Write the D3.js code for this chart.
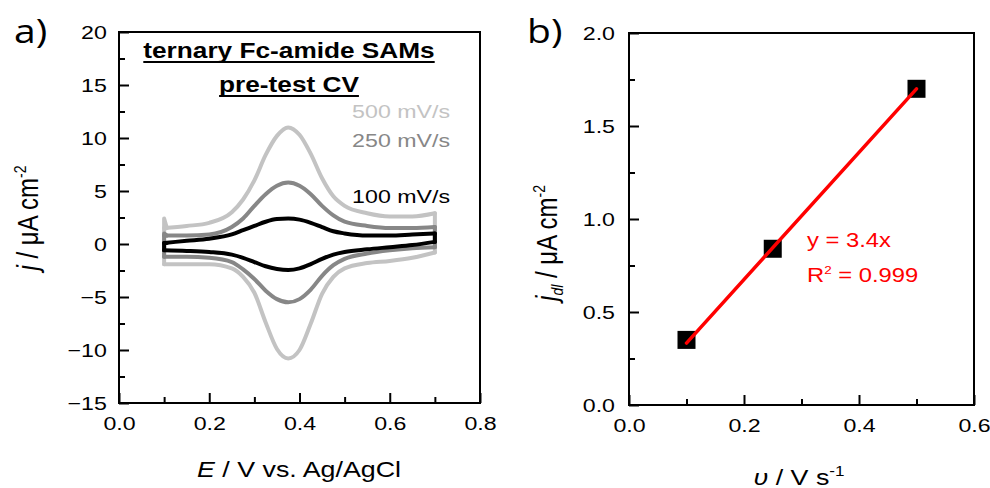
<!DOCTYPE html>
<html>
<head>
<meta charset="utf-8">
<script src="https://cdn.jsdelivr.net/npm/d3@7"></script>
<style>
  body { margin: 0; background: #fff; }
  svg { display: block; font-family: "Liberation Sans", Arial, sans-serif; }
</style>
</head>
<body>
<script>
'use strict';

// ---- panel a) cyclic voltammograms ----
const potentials   = [0.1, 0.15, 0.2, 0.25, 0.275, 0.3, 0.325, 0.35, 0.375, 0.4, 0.425, 0.45, 0.475, 0.5, 0.55, 0.6, 0.65, 0.7];
const j500Anodic   = [1.5, 1.7, 2.0, 3.0, 4.2, 6.0, 8.4, 10.2, 11.0, 10.3, 8.5, 6.2, 4.5, 3.6, 2.9, 2.6, 2.6, 2.9];
const j500Cathodic = [-1.9, -1.9, -1.9, -2.3, -3.1, -4.6, -7.4, -9.9, -10.8, -10.0, -7.5, -4.7, -3.1, -2.3, -1.8, -1.6, -1.3, -0.8];
const j250Anodic   = [0.8, 0.8, 0.9, 1.6, 2.4, 3.6, 4.7, 5.5, 5.8, 5.5, 4.7, 3.6, 2.7, 2.1, 1.7, 1.5, 1.5, 1.6];
const j250Cathodic = [-1.2, -1.2, -1.3, -1.7, -2.4, -3.3, -4.4, -5.2, -5.5, -5.2, -4.3, -3.0, -2.0, -1.4, -0.9, -0.6, -0.4, -0.3];
const j100Anodic   = [0.1, 0.3, 0.5, 0.9, 1.3, 1.7, 2.1, 2.35, 2.4, 2.3, 2.0, 1.6, 1.2, 1.0, 0.8, 0.8, 0.9, 1.0];
const j100Cathodic = [-0.6, -0.65, -0.75, -1.0, -1.3, -1.7, -2.1, -2.35, -2.45, -2.3, -1.9, -1.4, -1.0, -0.75, -0.5, -0.3, -0.1, 0.2];
const startSpike   = [2.4, 1.0, 0.1];   // top of the vertical at the start potential
const scanLabels   = ["500 mV/s", "250 mV/s", "100 mV/s"];
const cvXTicks     = [0.0, 0.2, 0.4, 0.6, 0.8];
const cvYTicks     = [-15, -10, -5, 0, 5, 10, 15, 20];

// ---- panel b) double-layer current vs scan rate ----
const scanRates = [0.1, 0.25, 0.5];
const jdl       = [0.35, 0.84, 1.70];
const fitV      = [0.1, 0.5];
const fitJ      = [0.333, 1.70];
const bXTicks   = [0.0, 0.2, 0.4, 0.6];
const bYTicks   = [0.0, 0.5, 1.0, 1.5, 2.0];

const SX = 1.22;   // the source figure is stretched horizontally
const greys = ["#c3c3c3", "#878787", "#000"];

let svg = d3.select('body').append('svg')
  .attr('width', 990)
  .attr('height', 488);

// text helper: stretched like the original
function sText(x, y, size, anchor) {
  return svg.append('text')
    .attr('transform', 'translate(' + x + ',' + y + ') scale(' + SX + ',1)')
    .style('font-size', size + 'px')
    .attr('text-anchor', anchor || 'start')
    .attr('fill', '#000');
}

// inward ticks, majors labelled, minors halfway
function drawAxes(xScale, yScale, xTicks, yTicks, xFmt, yFmt, xPad, yPad) {
  let x0 = xScale.range()[0], x1 = xScale.range()[1];
  let y0 = yScale.range()[0], y1 = yScale.range()[1];

  let xMinor = d3.pairs(xTicks).map(p => (p[0] + p[1]) / 2);
  let yMinor = d3.pairs(yTicks).map(p => (p[0] + p[1]) / 2);

  let gx = svg.append('g')
    .attr('transform', 'translate(0,' + y0 + ')')
    .call(d3.axisBottom(xScale).tickValues(xTicks).tickFormat(xFmt).tickSize(-10).tickPadding(xPad));
  svg.append('g')
    .attr('transform', 'translate(0,' + y0 + ')')
    .call(d3.axisBottom(xScale).tickValues(xMinor).tickFormat('').tickSize(-6));

  let gy = svg.append('g')
    .attr('transform', 'translate(' + x0 + ',0)')
    .call(d3.axisLeft(yScale).tickValues(yTicks).tickFormat(yFmt).tickSize(-10).tickPadding(yPad));
  svg.append('g')
    .attr('transform', 'translate(' + x0 + ',0)')
    .call(d3.axisLeft(yScale).tickValues(yMinor).tickFormat('').tickSize(-6));

  svg.selectAll('.domain').remove();
  svg.selectAll('.tick line').attr('stroke', '#000').attr('stroke-width', 2);
  [gx, gy].forEach(g => g.selectAll('.tick text')
    .attr('transform', 'scale(' + SX + ',1)')
    .style('font-size', '19px')
    .style('font-family', '"Liberation Sans", Arial, sans-serif')
    .attr('fill', '#000'));

  // full frame
  svg.append('rect')
    .attr('x', x0).attr('y', y1)
    .attr('width', x1 - x0).attr('height', y0 - y1)
    .attr('fill', 'none')
    .attr('stroke', '#000')
    .attr('stroke-width', 2);
}

// ===================== panel a =====================
let xA = d3.scaleLinear().domain([0, 0.8]).range([119, 480]);
let yA = d3.scaleLinear().domain([-15, 20]).range([403, 32]);

let cvs = [
  [j500Anodic, j500Cathodic],
  [j250Anodic, j250Cathodic],
  [j100Anodic, j100Cathodic]
];

let branch = d3.line()
  .x(d => xA(d[0]))
  .y(d => yA(d[1]))
  .curve(d3.curveMonotoneX);
let straight = d3.line()
  .x(d => xA(d[0]))
  .y(d => yA(d[1]));

let cvGroup = svg.append('g');
cvs.forEach((cv, i) => {
  let an = potentials.map((v, k) => [v, cv[0][k]]);
  let ca = potentials.map((v, k) => [v, cv[1][k]]);
  let last = potentials.length - 1;
  let pieces = [
    [branch, an],
    [branch, ca],
    [straight, [[potentials[0], cv[1][0]], [potentials[0], startSpike[i]], [potentials[0] + 0.006, cv[0][0]]]],
    [straight, [[potentials[last], cv[1][last]], [potentials[last], cv[0][last]]]]
  ];
  pieces.forEach(p => {
    cvGroup.append('path')
      .attr('d', p[0](p[1]))
      .attr('fill', 'none')
      .attr('stroke', greys[i])
      .attr('stroke-width', 4)
      .attr('stroke-linecap', 'round')
      .attr('stroke-linejoin', 'round');
  });
});

drawAxes(xA, yA, cvXTicks, cvYTicks, d3.format('.1f'), d3.format('d'), 14, 10);

// title, underlined
let titleLines = [["ternary Fc-amide SAMs", 58], ["pre-test CV", 92]];
titleLines.forEach(t => {
  let el = sText(289, t[1], 21.5, 'middle')
    .style('font-weight', 'bold')
    .text(t[0]);
  let w = el.node().getComputedTextLength() * SX;
  svg.append('line')
    .attr('x1', 289 - w / 2).attr('x2', 289 + w / 2)
    .attr('y1', t[1] + 4).attr('y2', t[1] + 4)
    .attr('stroke', '#000')
    .attr('stroke-width', 2);
});

// scan rate labels
let labelY = [118, 147, 203];
scanLabels.forEach((s, i) => {
  sText(450, labelY[i], 19, 'end').attr('fill', greys[i]).text(s);
});

// axis titles
let xt = sText(299, 477, 22, 'middle');
xt.append('tspan').style('font-style', 'italic').text('E');
xt.append('tspan').text(' / V vs. Ag/AgCl');

let yt = svg.append('text')
  .attr('transform', 'translate(38,218) rotate(-90) scale(1,' + SX + ')')
  .attr('text-anchor', 'middle')
  .style('font-size', '24px');
yt.append('tspan').style('font-style', 'italic').text('j');
yt.append('tspan').text(' / \u03bcA cm');
yt.append('tspan').attr('dy', -10).style('font-size', '14px').text('-2');

sText(14, 43, 32, 'start').style('font-family', '"Open Sans", sans-serif').text('a)');

// ===================== panel b =====================
let xB = d3.scaleLinear().domain([0, 0.6]).range([629, 974]);
let yB = d3.scaleLinear().domain([0, 2]).range([405, 33]);

drawAxes(xB, yB, bXTicks, bYTicks, d3.format('.1f'), d3.format('.1f'), 14, 11.5);

let sq = 18;
svg.append('g').selectAll('rect')
  .data(scanRates.map((v, k) => [v, jdl[k]]))
  .enter()
  .append('rect')
  .attr('x', d => xB(d[0]) - sq / 2)
  .attr('y', d => yB(d[1]) - sq / 2)
  .attr('width', sq)
  .attr('height', sq)
  .attr('fill', '#000');

let fitLine = d3.line()
  .x(d => xB(d[0]))
  .y(d => yB(d[1]));
svg.append('path')
  .attr('d', fitLine(fitV.map((v, k) => [v, fitJ[k]])))
  .attr('fill', 'none')
  .attr('stroke', '#ff0000')
  .attr('stroke-width', 3.5)
  .attr('stroke-linecap', 'round');

sText(807, 247, 19.5, 'start').attr('fill', '#ff0000').text('y = 3.4x');
let r2 = sText(807, 282, 19.5, 'start').attr('fill', '#ff0000');
r2.append('tspan').text('R');
r2.append('tspan').attr('dy', -8).style('font-size', '11px').text('2');
r2.append('tspan').attr('dy', 8).text(' = 0.999');

let xtb = sText(799, 485, 22, 'middle');
xtb.append('tspan').style('font-style', 'italic').text('\u03c5');
xtb.append('tspan').text(' / V s');
xtb.append('tspan').attr('dy', -9).style('font-size', '14px').text('-1');

let ytb = svg.append('text')
  .attr('transform', 'translate(557,243) rotate(-90) scale(1,' + SX + ')')
  .attr('text-anchor', 'middle')
  .style('font-size', '24px');
ytb.append('tspan').style('font-style', 'italic').text('j');
ytb.append('tspan').attr('dy', 5).style('font-size', '14px').style('font-style', 'italic').text('dl');
ytb.append('tspan').attr('dy', -5).text(' / \u03bcA cm');
ytb.append('tspan').attr('dy', -10).style('font-size', '14px').text('-2');

sText(527, 43, 32, 'start').style('font-family', '"Open Sans", sans-serif').text('b)');
</script>
</body>
</html>
